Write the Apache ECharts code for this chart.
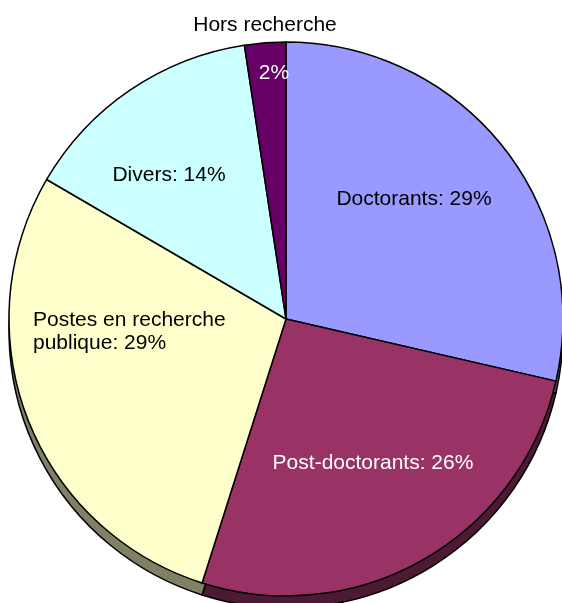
<!DOCTYPE html>
<html>
<head>
<meta charset="utf-8">
<script src="https://cdn.jsdelivr.net/npm/echarts@6/dist/echarts.min.js"></script>
<style>
  html, body { margin: 0; padding: 0; background: #ffffff; }
  #chart { width: 562px; height: 603px; }
</style>
</head>
<body>
<div id="chart"></div>
<script>
// ---- Data ----
var categories = ['Doctorants', 'Post-doctorants', 'Postes en recherche publique', 'Divers', 'Hors recherche'];
var values = [28.6, 26.3, 28.5, 14.2, 2.4];

// ---- Styles ----
var topColors = ['#9999FF', '#993366', '#FFFFCC', '#CCFFFF', '#660066'];
var sideColors = ['#4D4D80', '#4D1A33', '#808066', '#668080', '#330033'];
var labelColors = ['#000000', '#ffffff', '#000000', '#000000', '#000000'];
var labelPos = [
  { x: 414, y: 199, align: 'center' },
  { x: 373, y: 463, align: 'center' },
  { x: 33, y: 332, align: 'left' },
  { x: 169, y: 175, align: 'center' },
  { x: 265, y: 49, align: 'center' }
];

var FONT = '"Liberation Sans", Arial, sans-serif';

var topData = categories.map(function (c, i) {
  var item = { name: c, value: values[i], itemStyle: { color: topColors[i] }, label: { color: labelColors[i] } };
  if (i === 2) { item.label.width = 215; item.label.overflow = 'break'; }
  return item;
});
var sideData = categories.map(function (c, i) {
  return { name: c, value: values[i], itemStyle: { color: sideColors[i] } };
});

var chart = echarts.init(document.getElementById('chart'), null, { renderer: 'canvas' });
chart.setOption({
  animation: false,
  backgroundColor: '#ffffff',
  series: [
    {
      type: 'pie',
      z: 1,
      silent: true,
      center: [286, 331],
      radius: [0, 277],
      startAngle: 90,
      clockwise: true,
      percentPrecision: 0,
      label: { show: false },
      labelLine: { show: false },
      itemStyle: { borderColor: '#000000', borderWidth: 1.5 },
      data: sideData
    },
    {
      type: 'pie',
      z: 2,
      silent: true,
      center: [286, 319],
      radius: [0, 277],
      startAngle: 90,
      clockwise: true,
      percentPrecision: 0,
      itemStyle: { borderColor: '#000000', borderWidth: 1.5 },
      labelLine: { show: false },
      label: {
        show: true,
        position: 'inside',
        fontFamily: FONT,
        fontSize: 21,
        lineHeight: 23,
        formatter: function (p) {
          if (p.dataIndex === 4) {
            return '{n|' + p.name + '}\n{p|' + p.percent + '%}';
          }
          return p.name + ': ' + p.percent + '%';
        },
        rich: {
          n: { fontFamily: FONT, fontSize: 21, lineHeight: 48, color: '#000000' },
          p: { fontFamily: FONT, fontSize: 21, lineHeight: 48, color: '#ffffff', padding: [0, 0, 0, 18] }
        }
      },
      labelLayout: function (params) {
        var lp = labelPos[params.dataIndex];
        return { x: lp.x, y: lp.y, align: lp.align, verticalAlign: 'middle', hideOverlap: false };
      },
      data: topData
    }
  ]
});
</script>
</body>
</html>
